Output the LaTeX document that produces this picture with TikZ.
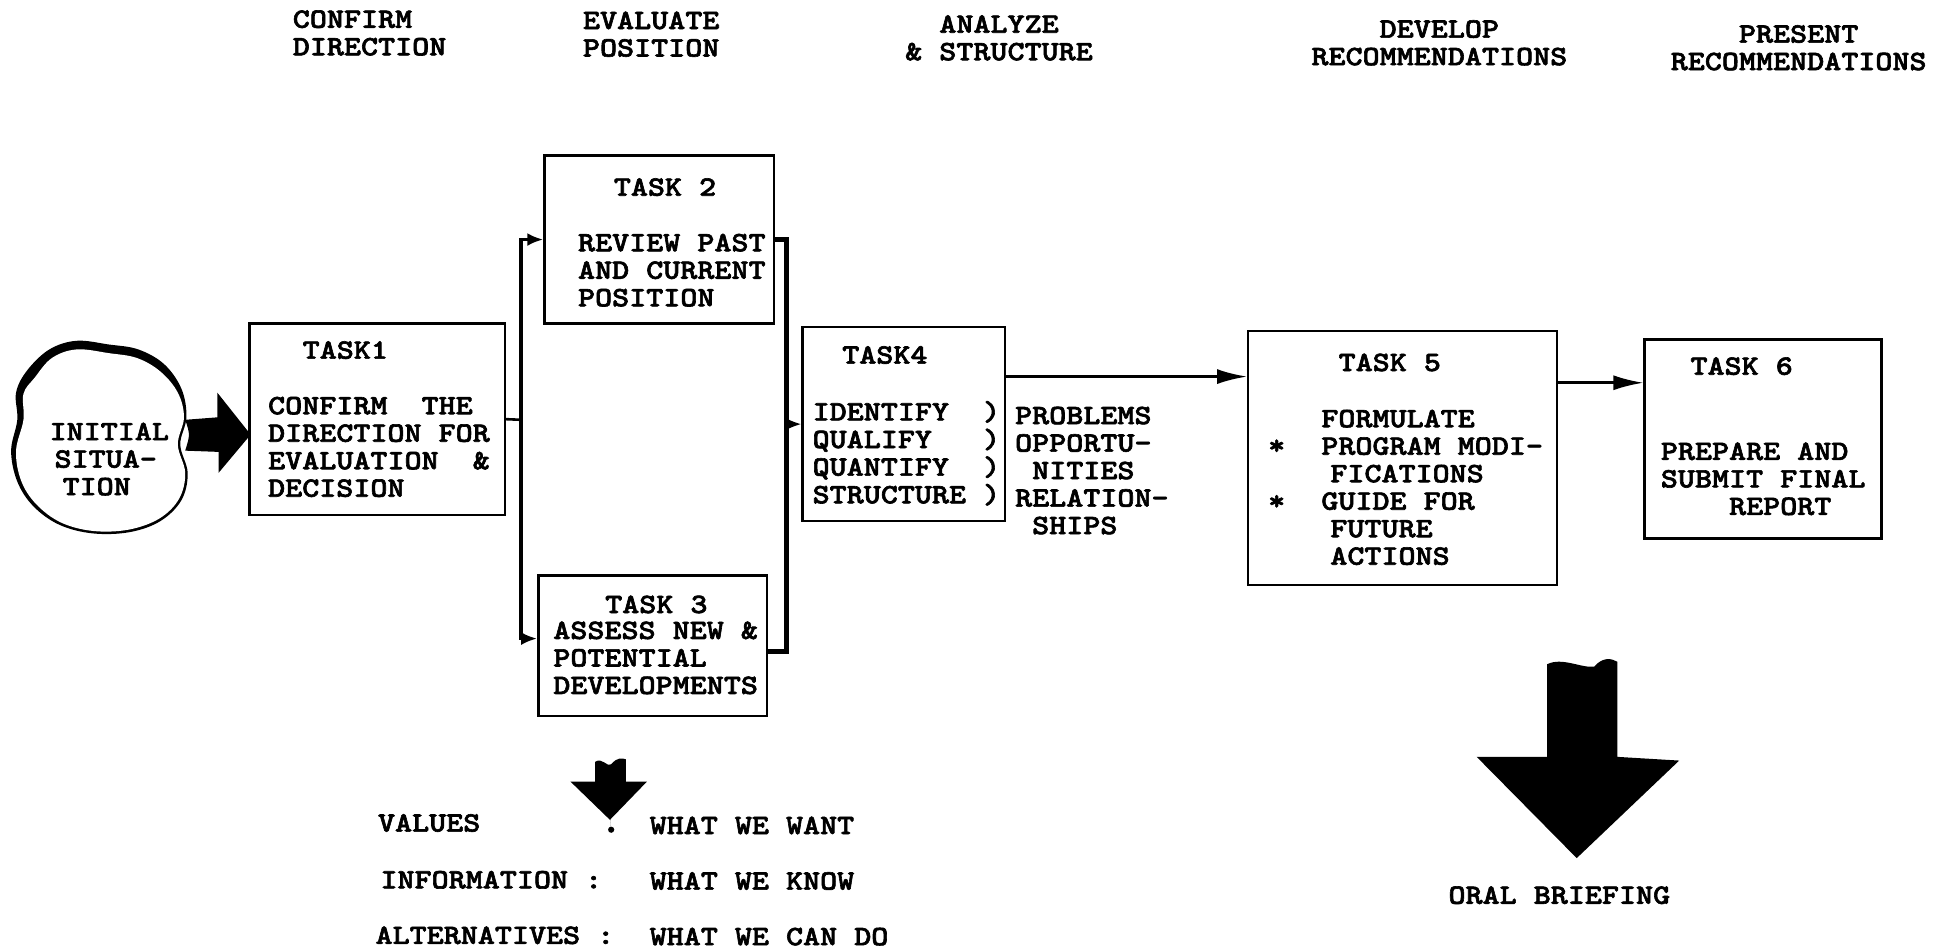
\documentclass[tikz,border=0pt]{standalone}
\usepackage{fontspec}
% heavy slab-serif typewriter face, widened to a 10-pitch look
\newfontfamily\twface{lmmonolt10-bold}[Extension=.otf,FakeStretch=1.16,FakeBold=2.2]
\usetikzlibrary{arrows.meta,fit,calc}
% typewriter text with a fixed line pitch
\newcommand\tw{\twface\fontsize{28pt}{27.5pt}\selectfont}
% stacked lines whose baseline is the first line
\newcommand\ml[1]{\begin{tabular}[t]{@{}l@{}}#1\end{tabular}}
\begin{document}
\begin{tikzpicture}[x=1.2347pt,y=-1.2347pt,
  txt/.style={anchor=base west,inner sep=0pt,font=\tw},
  box/.style={draw,line width=2.4pt,inner sep=0pt},
  link/.style={line width=2.6pt},
  bus/.style={line width=3.8pt},
  heavybus/.style={line width=5.4pt},
  smalltip/.style={-{Latex[length=16pt,width=13pt]}},
  bigtip/.style={-{Latex[length=30pt,width=15pt]}}]
\useasboundingbox (0,0) rectangle (1568,770);

% ---- phase headings
\node[txt] (h1) at (237,22.5) {\ml{CONFIRM\\DIRECTION}};
\node[txt] (h2) at (472,23.5) {\ml{EVALUATE\\POSITION}};
\node[txt] (h3) at (733,26.5) {\ml{~~ANALYZE\\\& STRUCTURE}};
\node[txt] (h4) at (1062,30.5) {\ml{~~~~DEVELOP\\RECOMMENDATIONS}};
\node[txt] (h5) at (1353,34.5) {\ml{~~~~PRESENT\\RECOMMENDATIONS}};

% ---- task boxes
\node[box,fit={(202,262) (409,417)}] (t1) {};
\node[box,fit={(441,126) (627,262)}] (t2) {};
\node[box,fit={(436,466) (621,580)}] (t3) {};
\node[box,fit={(650,265) (814,422)}] (t4) {};
\node[box,fit={(1011,268) (1261,474)}] (t5) {};
\node[box,fit={(1332,275) (1524,436)}] (t6) {};

% ---- box texts
\node[txt] (t1h) at (245,290.5) {TASK1};
\node[txt] (t1b) at (217,335.5) {\ml{CONFIRM~~THE\\DIRECTION FOR\\EVALUATION~~\&\\DECISION}};
\node[txt] (t2h) at (497,158.5) {TASK 2};
\node[txt] (t2b) at (468,203.5) {\ml{REVIEW PAST\\AND CURRENT\\POSITION}};
\node[txt] (t3h) at (490,496.5) {TASK 3};
\node[txt] (t3b) at (448,517.5) {\ml{ASSESS NEW \&\\POTENTIAL\\DEVELOPMENTS}};
\node[txt] (t4h) at (682,294.5) {TASK4};
\node[txt] (t4b) at (658,340.5) {\ml{IDENTIFY~~)\\QUALIFY~~~)\\QUANTIFY~~)\\STRUCTURE~)}};
\node[txt] (t4s) at (822,343.5) {\ml{PROBLEMS\\OPPORTU-\\~NITIES\\RELATION-\\~SHIPS}};
\node[txt] (t5h) at (1084,300.5) {TASK 5};
\node[txt] (t5b) at (1070,346) {\ml{FORMULATE\\PROGRAM MODI-\\\hspace{9pt}FICATIONS\\GUIDE FOR\\\hspace{9pt}FUTURE\\\hspace{9pt}ACTIONS}};
\node[txt,anchor=center] (s1) at (1034,362) {*};
\node[txt,anchor=center] (s2) at (1034,407) {*};
\node[txt] (t6h) at (1369,303.5) {TASK 6};
\node[txt] (t6b) at (1345,372.5) {\ml{PREPARE AND\\SUBMIT FINAL\\~~~~REPORT}};

% ---- initial situation cloud: heavy rim on top and left, thin below
\fill plot[smooth cycle,tension=0.6] coordinates {(22,300) (40,283) (62,276) (88,279) (112,283) (133,295) (147,315) (151,338) (146,360) (152,383) (147,405) (130,422) (105,431) (75,432) (48,425) (27,410) (14,390) (9,365) (14,340) (13,318)};
\fill[white] plot[smooth cycle,tension=0.6] coordinates {(28,306) (42,290) (62,283) (88,286) (111,290) (130,301) (144,318) (149,338) (144,360) (150,383) (145,404) (129,420) (104,429) (75,430) (49,423) (29,408) (17,389) (13,365) (19,340) (19,319)};
\node[txt] (init) at (40,356.5) {\ml{INITIAL\\\hspace{5pt}SITUA-\\\hspace{13pt}TION}};

% block arrow into task 1
\fill (150,340) -- (176,338) -- (176,318) -- (203,352) -- (177,383) -- (177,366) -- (150,365) .. controls (154,352) .. (150,340) -- cycle;

% ---- connectors
\coordinate (L) at (422,340);
\coordinate (R) at (637,343.5);
\coordinate (a45) at (0,305);
\coordinate (a56) at (0,310);
\draw[link] (t1.east) -- (L);
\draw[bus,smalltip] (L) |- (t2.west);
\draw[bus,smalltip] (L) |- ($(t3.north west)!0.45!(t3.south west)$);
\draw[heavybus] (t2.east) -| (R);
\draw[heavybus] ($(t3.north east)!0.54!(t3.south east)$) -| (R);
\draw[link,smalltip] (R) -- (t4.west);
\draw[link,bigtip] (t4.east |- a45) -- (t5.west |- a45);
\draw[link,bigtip] (t5.east |- a56) -- (t6.west |- a56);

% ---- oral briefing arrow
\fill (1253,538) .. controls (1265,532) and (1280,541) .. (1291,540)
  .. controls (1298,532) and (1305,533) .. (1310,536)
  -- (1310,613) -- (1360,616) -- (1277,695) -- (1196,613) -- (1253,613) -- cycle;
\node[txt] (oral) at (1173,732) {ORAL BRIEFING};

% ---- small arrow and legend
\fill (482,617) .. controls (488,613) and (492,622) .. (495,619)
  .. controls (500,613) and (504,614) .. (507,615)
  -- (507,633) -- (524,633) -- (494,664) -- (462,633) -- (482,633) -- cycle;
\fill (494,662) -- (495,672) circle[radius=2.5];
\node[txt] (v1) at (306,673.5) {VALUES};
\node[txt] (v2) at (526,675.5) {WHAT WE WANT};
\node[txt] (i1) at (308,719.5) {INFORMATION :};
\node[txt] (i2) at (526,720.5) {WHAT WE KNOW};
\node[txt] (a1) at (304,764.5) {ALTERNATIVES :};
\node[txt] (a2) at (526,765.5) {WHAT WE CAN DO};
\end{tikzpicture}
\end{document}
